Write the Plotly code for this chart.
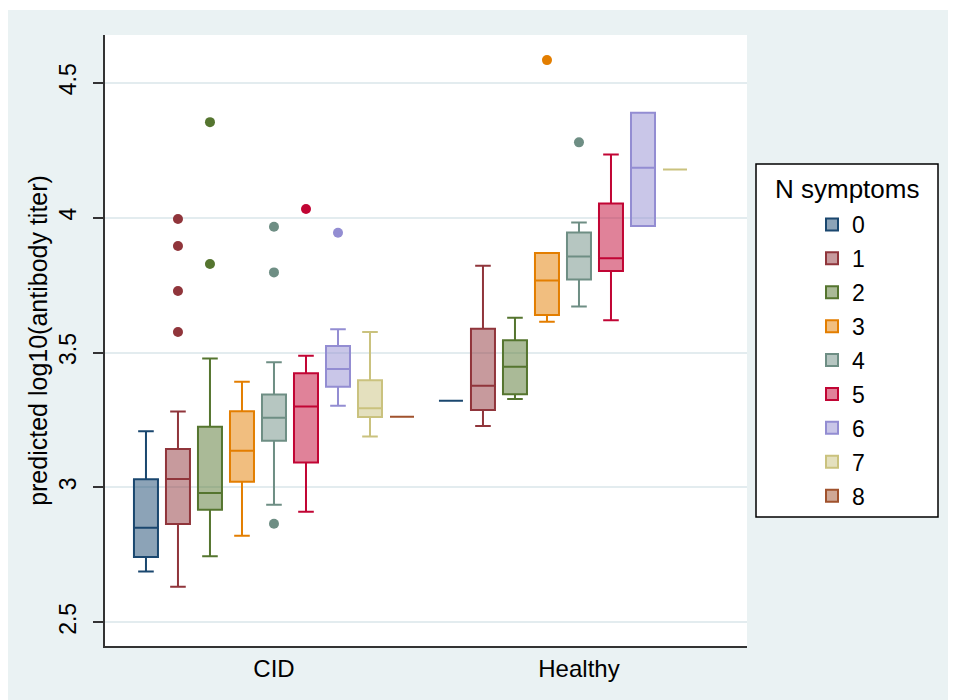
import plotly.graph_objects as go

# ---------------- data ----------------
categories = ["0", "1", "2", "3", "4", "5", "6", "7", "8"]
groups = ["CID", "Healthy"]

# CID group box statistics (per N symptoms)
cid_lo  = [2.688, 2.632, 2.745, 2.821, 2.936, 2.910, 3.303, 3.189, 3.262]
cid_q1  = [2.742, 2.864, 2.917, 3.021, 3.173, 3.092, 3.373, 3.261, 3.262]
cid_med = [2.850, 3.031, 2.979, 3.136, 3.258, 3.300, 3.439, 3.293, 3.262]
cid_q3  = [3.030, 3.142, 3.225, 3.282, 3.344, 3.423, 3.524, 3.397, 3.262]
cid_hi  = [3.208, 3.281, 3.478, 3.392, 3.464, 3.488, 3.586, 3.576, 3.262]
cid_out = [[], [3.995, 3.895, 3.728, 3.576], [4.354, 3.828], [],
           [3.966, 3.797, 2.865], [4.032], [3.944], [], []]

# Healthy group box statistics (no subjects with 8 symptoms)
h_lo  = [3.321, 3.228, 3.328, 3.614, 3.671, 3.620, 3.969, 4.178, None]
h_q1  = [3.321, 3.287, 3.345, 3.639, 3.771, 3.802, 3.969, 4.178, None]
h_med = [3.321, 3.377, 3.447, 3.767, 3.856, 3.849, 4.185, 4.178, None]
h_q3  = [3.321, 3.588, 3.545, 3.869, 3.945, 4.052, 4.389, 4.178, None]
h_hi  = [3.321, 3.822, 3.629, 3.869, 3.982, 4.234, 4.389, 4.178, None]
h_out = [[], [], [], [4.584], [4.279], [], [], [], []]

y_ticks = [2.5, 3, 3.5, 4, 4.5]
y_tick_labels = ["2.5", "3", "3.5", "4", "4.5"]

colors = ["#1A476F", "#90353B", "#55752F", "#E37E00", "#6E8E84",
          "#C10534", "#938DD2", "#CAC27E", "#A0522D"]

# ---------------- layout helpers ----------------
HEALTHY_OFFSET = 9.53
n = len(categories)
group_centers = [(n - 1) / 2, HEALTHY_OFFSET + (n - 1) / 2]


def rgba(hexc, a):
    h = hexc.lstrip("#")
    r, g, b = int(h[0:2], 16), int(h[2:4], 16), int(h[4:6], 16)
    return f"rgba({r},{g},{b},{a})"


FONT = "Arial, Liberation Sans, sans-serif"

fig = go.Figure()
for i, cat in enumerate(categories):
    xs, lo, q1, md, q3, hi = [], [], [], [], [], []
    xs.append(i); lo.append(cid_lo[i]); q1.append(cid_q1[i]); md.append(cid_med[i]); q3.append(cid_q3[i]); hi.append(cid_hi[i])
    if h_med[i] is not None:
        xs.append(HEALTHY_OFFSET + i); lo.append(h_lo[i]); q1.append(h_q1[i]); md.append(h_med[i]); q3.append(h_q3[i]); hi.append(h_hi[i])
    fig.add_trace(go.Box(
        name=cat, x=xs, lowerfence=lo, q1=q1, median=md, q3=q3, upperfence=hi,
        boxpoints=False, width=0.75, whiskerwidth=0.65,
        line=dict(color=colors[i], width=2),
        fillcolor=rgba(colors[i], 0.5),
        legendgroup=cat, showlegend=True,
    ))
    ox = [i] * len(cid_out[i]) + [HEALTHY_OFFSET + i] * len(h_out[i])
    oy = cid_out[i] + h_out[i]
    if oy:
        fig.add_trace(go.Scatter(
            x=ox, y=oy, mode="markers", legendgroup=cat, showlegend=False,
            marker=dict(color=colors[i], size=10, line=dict(width=0)),
        ))

# page has an 8px body margin; positions below are in page pixels
OFF = 8
W, H = 956 - OFF, 700 - OFF
L, T = 105 - OFF, 35 - OFF
R = W - (747 - OFF)
B = H - (646 - OFF)
pw, ph = W - L - R, H - T - B


def px(xp):
    return (xp - OFF - L) / pw


def py(yp):
    return (H - B - (yp - OFF)) / ph


shapes = [
    # outer graph region
    dict(type="rect", xref="paper", yref="paper", x0=px(OFF), x1=px(960), y0=py(705), y1=py(10),
         fillcolor="#EAF2F3", line=dict(width=0), layer="below"),
    # plot region
    dict(type="rect", xref="paper", yref="paper", x0=0, x1=1, y0=0, y1=1,
         fillcolor="white", line=dict(width=0), layer="below"),
    # legend frame
    dict(type="rect", xref="paper", yref="paper", x0=px(756), x1=px(938), y0=py(517), y1=py(164),
         fillcolor="white", line=dict(color="black", width=1.5), layer="below"),
]

fig.update_layout(
    width=W, height=H, autosize=False,
    margin=dict(l=L, r=R, t=T, b=B),
    paper_bgcolor="white", plot_bgcolor="rgba(0,0,0,0)",
    font=dict(family=FONT, color="black"),
    shapes=shapes,
    showlegend=True,
    legend=dict(x=px(812), y=py(203), xanchor="left", yanchor="top",
                bgcolor="rgba(0,0,0,0)", borderwidth=0,
                font=dict(size=23, family=FONT), tracegroupgap=1),
    annotations=[dict(text="N symptoms", xref="paper", yref="paper", x=px(847), y=py(189),
                      xanchor="center", yanchor="middle", showarrow=False,
                      font=dict(size=26, family=FONT))],
    xaxis=dict(range=[-1.28, 18.78], tickvals=group_centers, ticktext=groups,
               showgrid=False, zeroline=False, ticks="", showline=True,
               linecolor="#333333", linewidth=2, tickfont=dict(size=24)),
    yaxis=dict(range=[2.412, 4.677], tickvals=y_ticks, ticktext=y_tick_labels,
               tickangle=-90, ticks="outside", ticklen=10, tickwidth=1.5, tickcolor="#333333",
               ticklabelstandoff=8,
               showline=True, linecolor="#333333", linewidth=2, zeroline=False,
               showgrid=True, gridcolor="#E3ECEF", gridwidth=1.5,
               tickfont=dict(size=23),
               title=dict(text="predicted log10(antibody titer)", font=dict(size=25), standoff=0)),
)

fig.write_html("out.html")
